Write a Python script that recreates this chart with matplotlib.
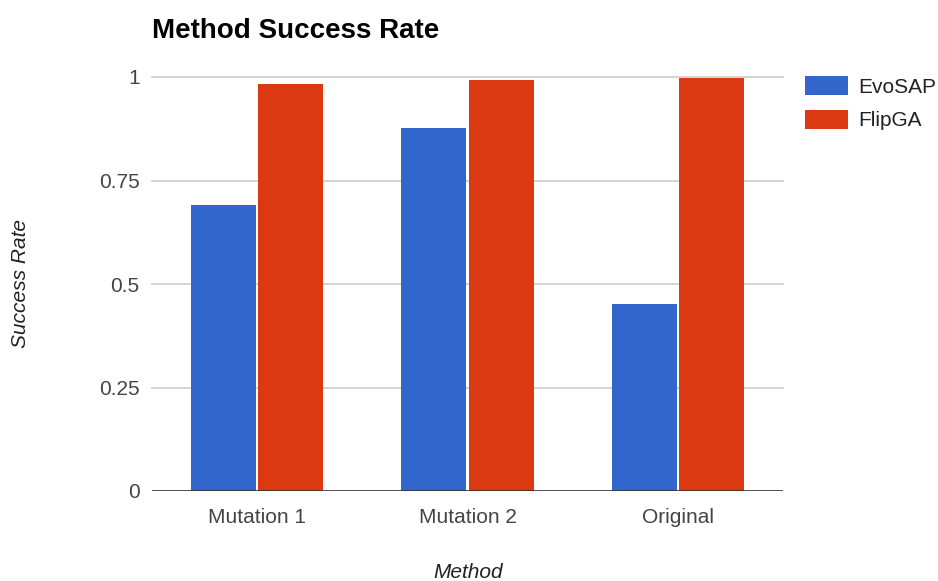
import matplotlib
matplotlib.use("Agg")
import matplotlib.pyplot as plt
import numpy as np

# Success rate per method for the two algorithms
methods = ["Mutation 1", "Mutation 2", "Original"]
evosap = [0.690, 0.877, 0.451]
flipga = [0.984, 0.992, 0.998]
series_names = ["EvoSAP", "FlipGA"]
y_ticks = [0, 0.25, 0.5, 0.75, 1]
y_tick_labels = ["0", "0.25", "0.5", "0.75", "1"]

BLUE = "#3366CC"
RED = "#DC3912"

plt.rcParams["font.family"] = ["Liberation Sans", "DejaVu Sans"]

W, H = 938, 581
fig = plt.figure(figsize=(W / 100, H / 100), dpi=100)
ax = fig.add_axes([152 / W, 1 - 491 / H, (783 - 152) / W, (491 - 77) / H])

x = np.arange(len(methods))
bw = 0.31
off = 0.16
ax.bar(x - off, evosap, bw, color=BLUE, label=series_names[0], zorder=3)
ax.bar(x + off, flipga, bw, color=RED, label=series_names[1], zorder=3)

ax.set_xlim(-0.5, len(methods) - 0.5)
ax.set_ylim(0, 1)
ax.set_yticks(y_ticks)
ax.set_yticklabels(y_tick_labels)
ax.set_xticks(x)
ax.set_xticklabels(methods)

ax.tick_params(axis="both", length=0, labelsize=15, colors="#444444")
ax.tick_params(axis="x", pad=12)
ax.tick_params(axis="y", pad=9)

for v in y_ticks[1:]:
    ax.axhline(v, color="#cccccc", linewidth=1.2, zorder=1, clip_on=False)
ax.axhline(0, color="#333333", linewidth=1.2, zorder=4)

for s in ax.spines.values():
    s.set_visible(False)

# Axis titles
fig.text(468 / W, 1 - 572 / H, "Method", fontsize=15, fontstyle="italic",
         color="#222222", ha="center", va="center")
fig.text(21 / W, 1 - 284 / H, "Success Rate", fontsize=15, fontstyle="italic",
         color="#222222", ha="center", va="center", rotation=90)

fig.text(152 / W, 1 - 38 / H, "Method Success Rate", fontsize=20,
         fontweight="bold", color="#000000", ha="left", va="baseline")

ax.legend(loc="upper left", bbox_to_anchor=(805 / W, 1 - 76 / H),
          bbox_transform=fig.transFigure, frameon=False, fontsize=15,
          handlelength=2.07, handleheight=1.05, handletextpad=0.48,
          labelspacing=0.62, borderpad=0, borderaxespad=0,
          labelcolor="#222222")

fig.savefig("out.png", dpi=100)
